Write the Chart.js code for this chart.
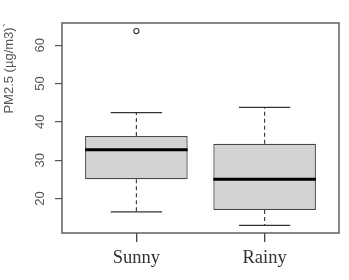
<!DOCTYPE html>
<html>
<head>
<meta charset="utf-8">
<script src="https://cdn.jsdelivr.net/npm/chart.js@4/dist/chart.umd.min.js"></script>
<style>
  body { margin: 0; background: #fff; }
  canvas { display: block; }
</style>
</head>
<body>
<canvas id="myChart" width="349" height="280"></canvas>
<script>
// box statistics
const categories = ['Sunny', 'Rainy'];
const lowerWhisker = [16.5, 13.0];
const q1 = [25.0, 17.0];
const median = [32.7, 25.0];
const q3 = [36.3, 34.3];
const upperWhisker = [42.4, 43.8];
const outliers = [[63.7], []];
const yTicks = [20, 30, 40, 50, 60];
const yTitle = 'PM2.5 (\u00b5g/m3)`';

const boxHalf = 0.4, capHalf = 0.2;

const datasets = [];

// medians (on top)
categories.forEach((c, i) => {
  datasets.push({
    type: 'line', order: 0,
    data: [{x: i + 1 - boxHalf, y: median[i]}, {x: i + 1 + boxHalf, y: median[i]}],
    borderColor: '#000', borderWidth: 3, pointRadius: 0
  });
});

// boxes
datasets.push({
  type: 'bar', order: 1,
  data: categories.map((c, i) => ({x: i + 1, y: [q1[i], q3[i]]})),
  backgroundColor: '#d3d3d3',
  borderColor: '#444',
  borderWidth: 1.3,
  borderSkipped: false,
  barPercentage: 0.8,
  categoryPercentage: 1
});

// whiskers and caps
categories.forEach((c, i) => {
  const x = i + 1;
  [[q3[i], upperWhisker[i]], [q1[i], lowerWhisker[i]]].forEach(([a, b]) => {
    datasets.push({
      type: 'line', order: 2,
      data: [{x: x, y: a}, {x: x, y: b}],
      borderColor: '#333', borderWidth: 1.1, borderDash: [4, 3], pointRadius: 0
    });
    datasets.push({
      type: 'line', order: 2,
      data: [{x: x - capHalf, y: b}, {x: x + capHalf, y: b}],
      borderColor: '#333', borderWidth: 1.2, pointRadius: 0
    });
  });
});

// outliers
datasets.push({
  type: 'line', order: 0, showLine: false,
  data: outliers.flatMap((arr, i) => arr.map(v => ({x: i + 1, y: v}))),
  pointRadius: 2.6, pointBorderWidth: 1.1,
  pointBorderColor: '#333', pointBackgroundColor: 'rgba(0,0,0,0)'
});

const framePlugin = {
  id: 'frame',
  afterDraw(chart) {
    const {ctx, chartArea: a} = chart;
    ctx.save();
    ctx.strokeStyle = '#555';
    ctx.lineWidth = 1.4;
    ctx.strokeRect(a.left, a.top, a.right - a.left, a.bottom - a.top);
    ctx.restore();
  }
};

window.ctx = document.getElementById('myChart').getContext('2d');
window.myChart = new Chart(ctx, {
  type: 'bar',
  data: { datasets: datasets },
  options: {
    responsive: false,
    animation: false,
    layout: { padding: { top: 23, right: 10, left: 0, bottom: 0 } },
    plugins: { legend: { display: false }, tooltip: { enabled: false } },
    scales: {
      x: {
        type: 'linear', position: 'bottom', offset: false, bounds: 'data',
        min: 0.42, max: 2.58,
        afterBuildTicks: s => { s.ticks = categories.map((c, i) => ({value: i + 1})); },
        afterFit: s => { s.height = 47; },
        border: { display: false },
        grid: { offset: false, drawOnChartArea: false, drawTicks: true, tickLength: 9,
                color: '#444', tickColor: '#444', lineWidth: 1.3, tickWidth: 1.3 },
        ticks: {
          padding: 5, color: '#333', maxRotation: 0, autoSkip: false,
          font: { family: 'Liberation Serif', size: 18.5 },
          callback: (v, idx) => categories[idx]
        }
      },
      y: {
        type: 'linear', position: 'left', bounds: 'data',
        min: 11.0, max: 65.8,
        afterBuildTicks: s => { s.ticks = yTicks.map(v => ({value: v})); },
        afterFit: s => { s.width = 62; },
        border: { display: false },
        grid: { drawOnChartArea: false, drawTicks: true, tickLength: 7, color: '#555', lineWidth: 1.2 },
        ticks: {
          padding: 7, color: '#555', crossAlign: 'center',
          minRotation: 90, maxRotation: 90, autoSkip: false,
          font: { family: 'Liberation Sans', size: 13 }
        },
        title: {
          display: true, text: yTitle, align: 'end', color: '#555',
          padding: { top: 2, bottom: 0 },
          font: { family: 'Liberation Sans', size: 13 }
        }
      }
    }
  },
  plugins: [framePlugin]
});
</script>
</body>
</html>
